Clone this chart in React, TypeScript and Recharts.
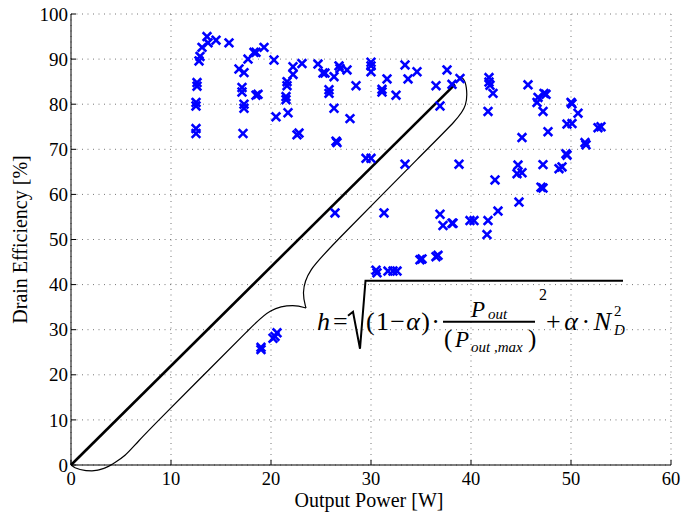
import React from 'react';
import {
  ComposedChart, Scatter, Line, XAxis, YAxis, CartesianGrid, ReferenceLine, ReferenceDot,
} from 'recharts';

// ---------- data ----------
const xTicks = [0, 10, 20, 30, 40, 50, 60];
const yTicks = [0, 10, 20, 30, 40, 50, 60, 70, 80, 90, 100];

// measured points: [Output Power W, Drain Efficiency %]
const measured: [number, number][] = [
  [13.6, 95.0], [13.7, 93.6], [13.1, 92.6], [14.5, 94.2], [15.8, 93.6],
  [12.8, 89.6], [12.9, 90.6], [12.6, 84.8], [12.6, 84.0], [12.5, 80.4],
  [12.5, 79.6], [12.5, 74.6], [12.5, 73.5], [17.7, 90.0], [18.3, 91.5],
  [18.5, 91.5], [19.3, 92.6], [16.8, 87.8], [17.3, 87.0], [17.1, 83.7],
  [17.1, 82.7], [18.5, 82.0], [18.7, 82.2], [17.3, 80.0], [17.3, 79.1],
  [17.2, 73.5], [20.3, 89.8], [22.2, 88.3], [22.2, 86.6], [21.6, 85.0],
  [21.6, 84.1], [21.5, 81.7], [21.5, 81.0], [21.7, 78.1], [20.5, 77.2],
  [22.6, 73.2], [22.8, 73.6], [23.1, 89.0], [24.7, 88.9], [25.2, 86.9],
  [25.4, 86.9], [26.3, 86.1], [26.8, 88.5], [26.9, 87.9], [27.6, 87.6],
  [25.8, 83.2], [25.8, 82.4], [28.5, 84.1], [26.3, 79.1], [27.9, 76.8],
  [26.5, 71.8], [26.6, 71.5], [30.0, 89.3], [30.0, 88.5], [30.0, 87.2],
  [31.6, 85.6], [31.1, 83.3], [31.1, 82.7], [32.5, 82.0], [33.4, 88.7],
  [33.7, 85.6], [34.6, 87.2], [37.6, 87.6], [36.5, 84.1], [38.1, 84.4],
  [38.9, 85.7], [36.9, 79.6], [29.5, 68.0], [30.0, 68.0], [33.4, 66.7],
  [38.8, 66.7], [41.8, 85.9], [41.8, 84.9], [41.9, 84.2], [42.2, 82.4],
  [41.7, 78.4], [45.7, 84.3], [46.7, 81.5], [46.6, 80.4], [47.3, 82.4],
  [47.5, 82.2], [47.2, 78.4], [50.0, 80.4], [50.1, 80.1], [50.7, 78.0],
  [49.6, 75.6], [50.1, 75.7], [52.7, 74.8], [53.0, 75.0], [47.7, 73.9],
  [45.1, 72.6], [51.4, 71.5], [51.5, 71.0], [49.5, 69.0], [49.6, 68.7],
  [44.7, 66.5], [44.6, 64.6], [45.1, 64.8], [47.2, 66.6], [48.8, 65.7],
  [49.1, 66.1], [42.4, 63.2], [47.0, 61.6], [47.2, 61.4], [44.8, 58.3],
  [42.7, 56.3], [26.4, 55.9], [31.3, 55.9], [36.9, 55.6], [37.2, 53.1],
  [38.1, 53.6], [38.2, 53.6], [39.9, 54.2], [40.3, 54.2], [41.7, 54.2],
  [41.6, 51.1], [35.1, 45.7], [34.9, 45.5], [36.5, 46.2], [36.7, 46.5],
  [30.5, 43.2], [30.6, 42.6], [31.7, 43.0], [32.2, 43.0], [32.6, 43.0],
  [19.0, 26.1], [19.0, 25.6], [20.4, 28.5], [20.6, 29.3], [20.2, 28.1],
];
const measuredData = measured.map(([x, y]) => ({ x, y }));

// fitted line
const fitLine = [{ x: 0, y: 0 }, { x: 38.4, y: 84.4 }];

// brace: small dip under the origin, then lower and upper branches (B-spline control points)
const braceDip = [
  { x: 0, y: 0 }, { x: 0.4, y: -0.6 }, { x: 0.9, y: -1.0 }, { x: 1.5, y: -1.25 },
  { x: 2.1, y: -1.3 }, { x: 2.7, y: -1.15 }, { x: 3.3, y: -0.75 }, { x: 3.8, y: -0.25 },
  { x: 4.2, y: 0.3 },
];
const braceLower = [
  { x: 4.2, y: 0.3 }, { x: 5.4, y: 1.9 }, { x: 6.6, y: 5.0 }, { x: 8.8, y: 10 },
  { x: 14.0, y: 21.6 }, { x: 17.8, y: 30 }, { x: 19.9, y: 34.8 }, { x: 22.4, y: 35.6 },
  { x: 23.5, y: 34.8 },
];
const braceUpper = [
  { x: 23.5, y: 34.8 }, { x: 23.1, y: 38.0 }, { x: 23.6, y: 43.0 }, { x: 26.7, y: 50 },
  { x: 35.6, y: 70 }, { x: 38.6, y: 76.6 }, { x: 39.6, y: 79.6 }, { x: 39.6, y: 84.0 },
  { x: 39.2, y: 86.1 }, { x: 38.7, y: 86.0 },
];
const formulaAnchor = { x: 25, y: 30 };

const SERIF = '"Liberation Serif", "Times New Roman", serif';

const XMarker = (props: any) => {
  const { cx, cy } = props;
  if (cx == null || cy == null) return null;
  const s = 3.4;
  return (
    <g stroke="#0000ff" strokeWidth={2.6} strokeLinecap="square">
      <line x1={cx - s} y1={cy - s} x2={cx + s} y2={cy + s} />
      <line x1={cx - s} y1={cy + s} x2={cx + s} y2={cy - s} />
    </g>
  );
};

const XTick = (props: any) => {
  const { x, y, payload } = props;
  return (
    <g>
      <line x1={x} x2={x} y1={y} y2={y - 5} stroke="#000" strokeWidth={1} />
      <text x={x} y={y + 20} textAnchor="middle" fontFamily={SERIF} fontSize={18.5} fill="#000">
        {payload.value}
      </text>
    </g>
  );
};

const YTick = (props: any) => {
  const { x, y, payload } = props;
  return (
    <g>
      <line x1={x} x2={x + 5} y1={y} y2={y} stroke="#000" strokeWidth={1} />
      <text x={x - 3} y={y} dy="0.35em" textAnchor="end" fontFamily={SERIF} fontSize={19} fill="#000">
        {payload.value}
      </text>
    </g>
  );
};

const YLabel = (props: any) => {
  const vb = props.viewBox || {};
  const cx = vb.x + 20;
  const cy = vb.y + vb.height / 2;
  return (
    <text x={cx} y={cy} transform={`rotate(-90 ${cx} ${cy})`} textAnchor="middle" dy="0.35em"
      fontFamily={SERIF} fontSize={20} fill="#000">
      Drain Efficiency [%]
    </text>
  );
};

const XLabel = (props: any) => {
  const vb = props.viewBox || {};
  return (
    <text x={vb.x + vb.width / 2 - 2} y={vb.y + 42} textAnchor="middle"
      fontFamily={SERIF} fontSize={20} fill="#000">
      Output Power [W]
    </text>
  );
};

const Formula = (props: any) => {
  const { cx, cy } = props;
  if (cx == null || cy == null) return null;
  const T = (dx: number, dy: number, s: string, size: number, italic = false) => (
    <text x={cx + dx} y={cy + dy} fontFamily={SERIF} fontSize={size}
      fontStyle={italic ? 'italic' : 'normal'} fill="#000">{s}</text>
  );
  return (
    <g>
      {T(-4, 0, 'h', 26, true)}
      {T(12, 0, '=', 26)}
      <path d={`M ${cx + 27} ${cy - 14} L ${cx + 32} ${cy - 18} L ${cx + 39} ${cy + 19} L ${cx + 44.5} ${cy - 49} L ${cx + 302} ${cy - 49}`}
        fill="none" stroke="#000" strokeWidth={2} strokeLinejoin="miter" />
      <text x={cx + 45} y={cy} fontFamily={SERIF} fontSize={26} fill="#000" textLength={74}
        lengthAdjust="spacing">
        (1{'\u2212'}<tspan fontStyle="italic">{'\u03b1'}</tspan>){'\u00b7'}
      </text>
      {T(150, -13, 'P', 23, true)}
      {T(167, -11, 'out', 15, true)}
      <line x1={cx + 122} x2={cx + 214} y1={cy - 8} y2={cy - 8} stroke="#000" strokeWidth={2} />
      {T(123, 17, '(', 25)}
      {T(134, 17, 'P', 23, true)}
      {T(150, 22, 'out ,max', 15, true)}
      {T(207, 17, ')', 25)}
      {T(218, -30, '2', 16)}
      <text x={cx + 225} y={cy} fontFamily={SERIF} fontSize={26} fill="#000" textLength={65}
        lengthAdjust="spacing">
        +<tspan fontStyle="italic">{'\u03b1'}</tspan>{'\u00b7'}<tspan fontStyle="italic">N</tspan>
      </text>
      {T(293, -14, '2', 15)}
      {T(293, 5, 'D', 15, true)}
    </g>
  );
};

export default function App() {
  return (
    <div style={{ position: 'absolute', left: 0, top: 0 }}>
      <ComposedChart width={683} height={512} margin={{ top: 14, right: 12, left: 0, bottom: 0 }}>
        <CartesianGrid stroke="#777" strokeDasharray="1 4.5" strokeWidth={1} />
        <XAxis type="number" dataKey="x" domain={[0, 60]} ticks={xTicks} interval={0}
          tickSize={0} tickMargin={0} tickLine={false} tick={<XTick />}
          axisLine={{ stroke: '#000', strokeWidth: 1 }} height={47} label={<XLabel />} />
        <YAxis type="number" dataKey="y" domain={[0, 100]} ticks={yTicks} interval={0}
          tickSize={0} tickMargin={0} tickLine={false} tick={<YTick />}
          axisLine={{ stroke: '#000', strokeWidth: 1 }} width={71} label={<YLabel />} />
        {braceDip.slice(0, -1).map((p, i) => (
          <ReferenceLine key={i} segment={[p, braceDip[i + 1]]} ifOverflow="visible"
            stroke="#000" strokeWidth={1.2} />
        ))}
        <Line data={braceLower} dataKey="y" type="basis" stroke="#000" strokeWidth={1.2}
          dot={false} activeDot={false} isAnimationActive={false} />
        <Line data={braceUpper} dataKey="y" type="basis" stroke="#000" strokeWidth={1.2}
          dot={false} activeDot={false} isAnimationActive={false} />
        <Line data={fitLine} dataKey="y" type="linear" stroke="#000" strokeWidth={2.6}
          dot={false} activeDot={false} isAnimationActive={false} />
        <Scatter data={measuredData} dataKey="y" shape={<XMarker />} isAnimationActive={false} />
        <ReferenceDot x={formulaAnchor.x} y={formulaAnchor.y} r={0} shape={<Formula />} />
      </ComposedChart>
    </div>
  );
}
